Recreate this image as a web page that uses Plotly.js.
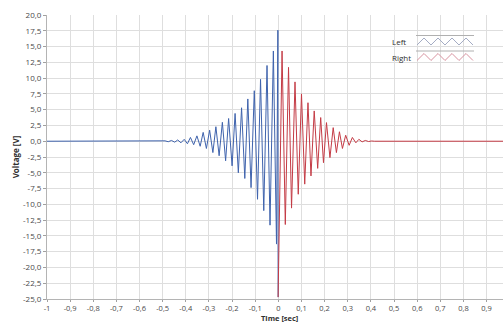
<!DOCTYPE html>
<html>
<head>
<meta charset="utf-8">
<script src="https://cdn.plot.ly/plotly-3.0.1.min.js"></script>
<style>html,body{margin:0;padding:0;background:#fff;}#chart{width:504px;height:322px;}</style>
</head>
<body>
<div id="chart"></div>
<script>
// Series names and axis titles
var seriesNames = ["Left", "Right"];
var xTitle = "Time [sec]";
var yTitle = "Voltage [V]";

// Left channel (blue): time [s] and voltage [V], read at the turning points of the trace
var leftTime = [
  -1, -0.56, -0.545, -0.531, -0.517, -0.503, -0.490, -0.476, -0.462, -0.448,
  -0.435, -0.421, -0.407, -0.393, -0.380, -0.366, -0.352, -0.338, -0.325, -0.311,
  -0.297, -0.283, -0.270, -0.256, -0.242, -0.228, -0.215, -0.200, -0.187, -0.173,
  -0.159, -0.145, -0.132, -0.118, -0.104, -0.090, -0.077, -0.063, -0.049, -0.036,
  -0.0216, -0.008, -0.002, -0.001
];
var leftVoltage = [
  0, 0, 0.02, -0.02, 0.03, -0.04, 0.06, -0.08, 0.12, -0.15,
  0.2, -0.25, 0.3, -0.4, 0.6, -0.55, 0.85, -0.8, 1.4, -1.15,
  1.75, -1.8, 2.3, -2.3, 3.0, -3.1, 3.6, -3.9, 4.4, -5.0,
  5.3, -5.9, 6.7, -7.35, 8.0, -9.2, 9.8, -11.0, 12.0, -13.3,
  14.3, -16.3, 17.6, -24.7
];

// Right channel (red)
var rightTime = [
  -0.001, 0.016, 0.030, 0.044, 0.057, 0.072, 0.086, 0.100, 0.114, 0.128,
  0.141, 0.155, 0.170, 0.183, 0.195, 0.208, 0.223, 0.237, 0.251, 0.264,
  0.277, 0.291, 0.306, 0.320, 0.335, 0.348, 0.362, 0.376, 0.390, 0.403,
  0.415, 0.971
];
var rightVoltage = [
  -24.7, 14.3, -13.2, 11.7, -10.6, 9.4, -8.4, 7.5, -6.8, 6.1,
  -5.5, 4.8, -4.3, 3.75, -3.4, 2.95, -2.6, 2.15, -1.8, 1.5,
  -1.15, 0.95, -0.65, 0.6, -0.25, 0.3, -0.1, 0.12, -0.05, 0.04,
  0, 0
];

// Tick labels
var timeTicks = [-1, -0.9, -0.8, -0.7, -0.6, -0.5, -0.4, -0.3, -0.2, -0.1, 0, 0.1, 0.2, 0.3, 0.4, 0.5, 0.6, 0.7, 0.8, 0.9];
var timeTickLabels = ["-1", "-0,9", "-0,8", "-0,7", "-0,6", "-0,5", "-0,4", "-0,3", "-0,2", "-0,1", "0", "0,1", "0,2", "0,3", "0,4", "0,5", "0,6", "0,7", "0,8", "0,9"];
var voltageTicks = [20, 17.5, 15, 12.5, 10, 7.5, 5, 2.5, 0, -2.5, -5, -7.5, -10, -12.5, -15, -17.5, -20, -22.5, -25];
var voltageTickLabels = ["20,0", "17,5", "15,0", "12,5", "10,0", "7,5", "5,0", "2,5", "0,0", "-2,5", "-5,0", "-7,5", "-10,0", "-12,5", "-15,0", "-17,5", "-20,0", "-22,5", "-25,0"];

var colors = ["#3f63ad", "#c43b45"];
var legendColors = ["#a4acc4", "#d893a0"];

var W = 504, H = 322;
var M = {l: 47, r: 1, t: 15, b: 23};
function px(x) { return (x - M.l) / (W - M.l - M.r); }
function py(y) { return (H - M.b - y) / (H - M.t - M.b); }

var traces = [
  {x: leftTime, y: leftVoltage, name: seriesNames[0], type: "scatter", mode: "lines",
   line: {color: colors[0], width: 1}},
  {x: rightTime, y: rightVoltage, name: seriesNames[1], type: "scatter", mode: "lines",
   line: {color: colors[1], width: 1}}
];

// legend drawn LabVIEW-style: name, then a box with a zigzag sample
var shapes = [], annotations = [];
var rowTops = [35.5, 51];
for (var i = 0; i < 2; i++) {
  var rowTop = rowTops[i];
  shapes.push({type: "line", xref: "paper", yref: "paper",
    x0: px(416), x1: px(474), y0: py(rowTop), y1: py(rowTop),
    line: {color: "#b0b0b0", width: 1}});
  var zx = [417, 424, 431, 438, 445, 452, 459, 466, 473];
  var d = "";
  for (var k = 0; k < zx.length; k++) {
    var yy = (k % 2 === 0) ? rowTop + 9.5 : rowTop + 2.5;
    d += (k === 0 ? "M" : "L") + px(zx[k]).toFixed(4) + "," + py(yy).toFixed(4);
  }
  shapes.push({type: "path", xref: "paper", yref: "paper", path: d,
    line: {color: legendColors[i], width: 1}});
  annotations.push({xref: "paper", yref: "paper", x: px(390), y: py(rowTop + 6),
    xanchor: "left", yanchor: "middle", showarrow: false, text: seriesNames[i],
    font: {family: "Open Sans, sans-serif", size: 8, color: "#303030"}});
}
// x-axis title placed just under the tick labels, as in the reference
annotations.push({xref: "paper", yref: "paper", x: px(279), y: py(317.6),
  xanchor: "center", yanchor: "middle", showarrow: false, text: "<b>" + xTitle + "</b>",
  font: {family: "Open Sans, sans-serif", size: 7.5, color: "#303030"}});

var axisFont = {family: "Open Sans, sans-serif", size: 8, color: "#4a4a4a"};
var xAxisFont = {family: "Open Sans, sans-serif", size: 7.5, color: "#4a4a4a"};
var layout = {
  width: W, height: H,
  margin: M,
  paper_bgcolor: "#ffffff", plot_bgcolor: "#ffffff",
  showlegend: false,
  xaxis: {
    range: [-1, 0.971], tickvals: timeTicks, ticktext: timeTickLabels,
    showgrid: true, gridcolor: "#dedede", gridwidth: 1, zeroline: false,
    showline: true, linecolor: "#b4b4b4", linewidth: 1,
    ticks: "outside", ticklen: 2, tickcolor: "#a0a0a0",
    tickfont: xAxisFont
  },
  yaxis: {
    range: [-25, 20], tickvals: voltageTicks, ticktext: voltageTickLabels,
    showgrid: true, gridcolor: "#dedede", gridwidth: 1, zeroline: false,
    showline: true, linecolor: "#b4b4b4", linewidth: 1,
    ticks: "outside", ticklen: 3, tickcolor: "#a0a0a0",
    tickfont: axisFont,
    title: {text: "<b>" + yTitle + "</b>", font: {family: "Open Sans, sans-serif", size: 8, color: "#303030"}, standoff: 2}
  },
  shapes: shapes,
  annotations: annotations
};

Plotly.newPlot("chart", traces, layout, {displayModeBar: false, staticPlot: true});
</script>
</body>
</html>
